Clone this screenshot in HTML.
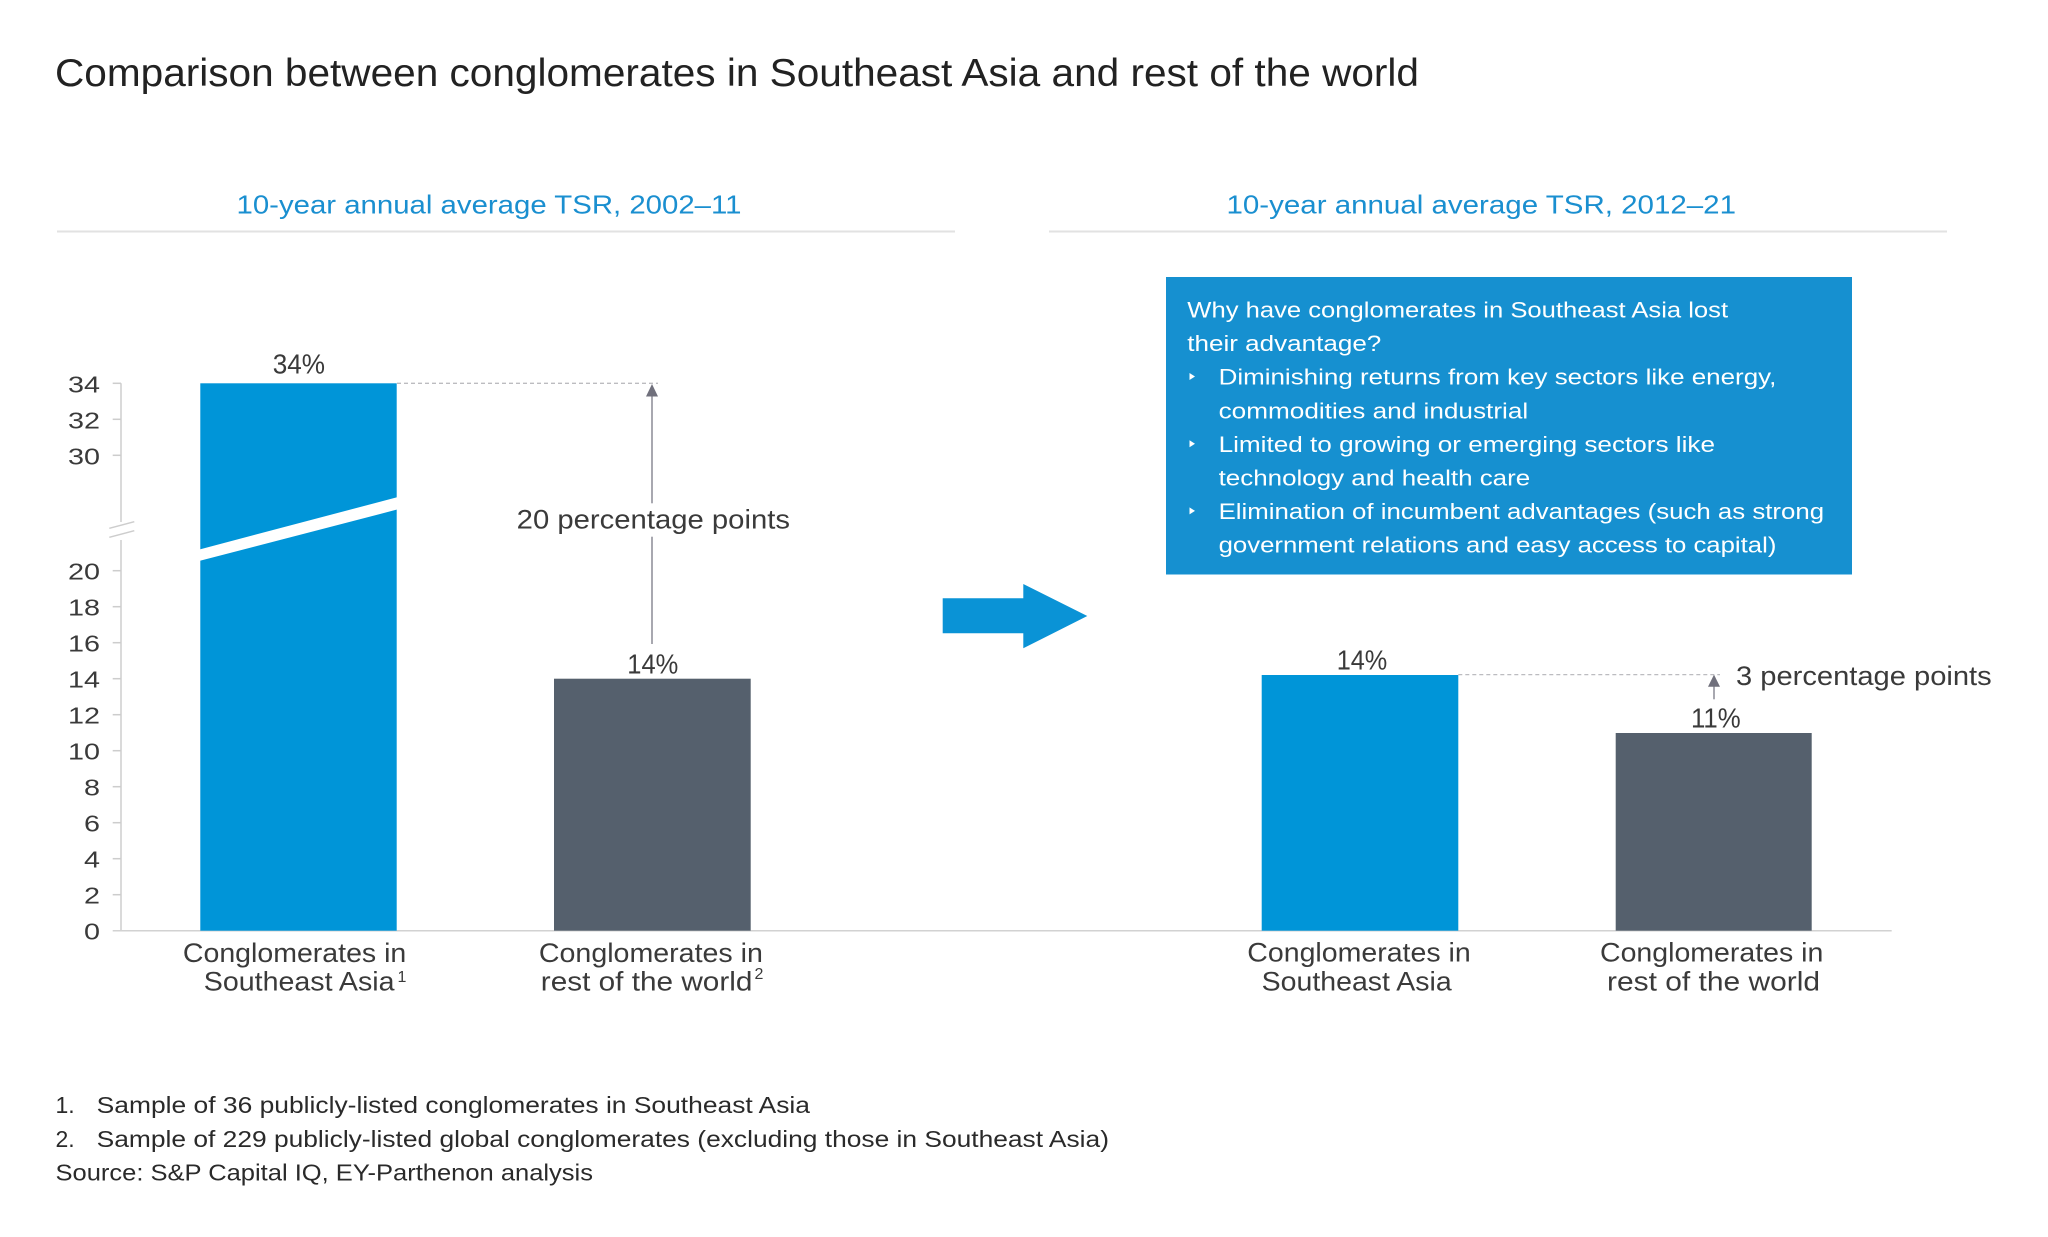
<!DOCTYPE html>
<html>
<head>
<meta charset="utf-8">
<style>
  html, body { margin: 0; padding: 0; background: #ffffff; }
  svg { display: block; }
  text { font-family: "Liberation Sans", "DejaVu Sans", sans-serif; }
</style>
</head>
<body>
<svg width="2048" height="1237" viewBox="0 0 2048 1237" xmlns="http://www.w3.org/2000/svg">
  <rect x="0" y="0" width="2048" height="1237" fill="#ffffff"/>

  <!-- Title -->
  <text x="55" y="86" font-size="39" fill="#222222" textLength="1364" lengthAdjust="spacingAndGlyphs">Comparison between conglomerates in Southeast Asia and rest of the world</text>

  <!-- Subtitles -->
  <text x="236.5" y="213.5" font-size="26" fill="#1a8fd0" textLength="505" lengthAdjust="spacingAndGlyphs">10-year annual average TSR, 2002–11</text>
  <text x="1226.5" y="213.5" font-size="26" fill="#1a8fd0" textLength="509.5" lengthAdjust="spacingAndGlyphs">10-year annual average TSR, 2012–21</text>
  <line x1="57" y1="231.5" x2="955" y2="231.5" stroke="#e2e2e2" stroke-width="2"/>
  <line x1="1049" y1="231.5" x2="1947" y2="231.5" stroke="#e2e2e2" stroke-width="2"/>

  <!-- Left axis -->
  <g stroke="#cdcdcd" stroke-width="1.5" fill="none">
    <line x1="121" y1="383.3" x2="121" y2="522"/>
    <line x1="121" y1="540" x2="121" y2="930.7"/>
    <line x1="109.3" y1="528.3" x2="134.3" y2="521.7"/>
    <line x1="109.3" y1="537.3" x2="134.3" y2="530.7"/>
    <line x1="112.7" y1="383.3" x2="121" y2="383.3"/>
    <line x1="112.7" y1="419.3" x2="121" y2="419.3"/>
    <line x1="112.7" y1="455.3" x2="121" y2="455.3"/>
    <line x1="112.7" y1="570.7" x2="121" y2="570.7"/>
    <line x1="112.7" y1="606.7" x2="121" y2="606.7"/>
    <line x1="112.7" y1="642.7" x2="121" y2="642.7"/>
    <line x1="112.7" y1="678.7" x2="121" y2="678.7"/>
    <line x1="112.7" y1="714.7" x2="121" y2="714.7"/>
    <line x1="112.7" y1="750.7" x2="121" y2="750.7"/>
    <line x1="112.7" y1="786.7" x2="121" y2="786.7"/>
    <line x1="112.7" y1="822.7" x2="121" y2="822.7"/>
    <line x1="112.7" y1="858.7" x2="121" y2="858.7"/>
    <line x1="112.7" y1="894.7" x2="121" y2="894.7"/>
  </g>
  <!-- baseline axis -->
  <line x1="112.7" y1="930.7" x2="1891.7" y2="930.7" stroke="#d2d2d2" stroke-width="1.5"/>

  <!-- Y tick labels -->
  <g font-size="23" fill="#3a3a3a" text-anchor="end">
    <text x="100" y="392.3" textLength="32" lengthAdjust="spacingAndGlyphs">34</text>
    <text x="100" y="428.3" textLength="32" lengthAdjust="spacingAndGlyphs">32</text>
    <text x="100" y="464.3" textLength="32" lengthAdjust="spacingAndGlyphs">30</text>
    <text x="100" y="579.7" textLength="32" lengthAdjust="spacingAndGlyphs">20</text>
    <text x="100" y="615.7" textLength="32" lengthAdjust="spacingAndGlyphs">18</text>
    <text x="100" y="651.7" textLength="32" lengthAdjust="spacingAndGlyphs">16</text>
    <text x="100" y="687.7" textLength="32" lengthAdjust="spacingAndGlyphs">14</text>
    <text x="100" y="723.7" textLength="32" lengthAdjust="spacingAndGlyphs">12</text>
    <text x="100" y="759.7" textLength="32" lengthAdjust="spacingAndGlyphs">10</text>
    <text x="100" y="795.7" textLength="16" lengthAdjust="spacingAndGlyphs">8</text>
    <text x="100" y="831.7" textLength="16" lengthAdjust="spacingAndGlyphs">6</text>
    <text x="100" y="867.7" textLength="16" lengthAdjust="spacingAndGlyphs">4</text>
    <text x="100" y="903.7" textLength="16" lengthAdjust="spacingAndGlyphs">2</text>
    <text x="100" y="939.7" textLength="16" lengthAdjust="spacingAndGlyphs">0</text>
  </g>

  <!-- Left chart bars -->
  <rect x="200.3" y="383.3" width="196.4" height="547.4" fill="#0095d8"/>
  <polygon points="199,549.6 398,497 398,509.3 199,561" fill="#ffffff"/>
  <rect x="554" y="678.7" width="196.7" height="252" fill="#55606d"/>

  <text x="272.7" y="373.3" font-size="28" fill="#3a3a3a" textLength="52.3" lengthAdjust="spacingAndGlyphs">34%</text>
  <text x="627.3" y="673.3" font-size="28" fill="#3a3a3a" textLength="51" lengthAdjust="spacingAndGlyphs">14%</text>

  <!-- 20 pp annotation -->
  <line x1="397" y1="383.3" x2="658" y2="383.3" stroke="#bcbcc0" stroke-width="1.3" stroke-dasharray="4 3"/>
  <line x1="652" y1="396" x2="652" y2="503.3" stroke="#a8a8b0" stroke-width="2"/>
  <line x1="652" y1="536.7" x2="652" y2="644" stroke="#a8a8b0" stroke-width="2"/>
  <polygon points="652,384 646,396.5 658,396.5" fill="#70707c"/>
  <text x="516.7" y="528.3" font-size="27" fill="#3a3a3a" textLength="273.3" lengthAdjust="spacingAndGlyphs">20 percentage points</text>

  <!-- Left x labels -->
  <g font-size="26.5" fill="#3a3a3a">
    <text x="182.9" y="962" textLength="223.4" lengthAdjust="spacingAndGlyphs">Conglomerates in</text>
    <text x="203.8" y="990.7" textLength="190.7" lengthAdjust="spacingAndGlyphs">Southeast Asia</text>
    <text x="538.9" y="962" textLength="224" lengthAdjust="spacingAndGlyphs">Conglomerates in</text>
    <text x="540.8" y="990.7" textLength="211.6" lengthAdjust="spacingAndGlyphs">rest of the world</text>
  </g>
  <text x="397.5" y="982" font-size="16" fill="#3a3a3a">1</text>
  <text x="754.5" y="979" font-size="16" fill="#3a3a3a">2</text>

  <!-- Big arrow -->
  <polygon points="942.7,598.3 1023.3,598.3 1023.3,584 1087.3,616 1023.3,648.3 1023.3,633.3 942.7,633.3" fill="#0a93d6"/>

  <!-- Info box -->
  <rect x="1166" y="277" width="686" height="297.5" fill="#1690d0"/>
  <g font-size="22.5" fill="#ffffff">
    <text x="1187.3" y="317.5" textLength="540.8" lengthAdjust="spacingAndGlyphs">Why have conglomerates in Southeast Asia lost</text>
    <text x="1187.3" y="351.1" textLength="194" lengthAdjust="spacingAndGlyphs">their advantage?</text>
    <text x="1218.6" y="384.7" textLength="557.8" lengthAdjust="spacingAndGlyphs">Diminishing returns from key sectors like energy,</text>
    <text x="1218.6" y="418.3" textLength="309.6" lengthAdjust="spacingAndGlyphs">commodities and industrial</text>
    <text x="1218.6" y="451.9" textLength="496.4" lengthAdjust="spacingAndGlyphs">Limited to growing or emerging sectors like</text>
    <text x="1218.6" y="485.5" textLength="311.6" lengthAdjust="spacingAndGlyphs">technology and health care</text>
    <text x="1218.6" y="519.1" textLength="605.5" lengthAdjust="spacingAndGlyphs">Elimination of incumbent advantages (such as strong</text>
    <text x="1218.6" y="552.7" textLength="557.8" lengthAdjust="spacingAndGlyphs">government relations and easy access to capital)</text>
  </g>
  <g fill="#ffffff">
    <polygon points="1189.5,373 1195,376.5 1189.5,380"/>
    <polygon points="1189.5,440.2 1195,443.7 1189.5,447.2"/>
    <polygon points="1189.5,507.4 1195,510.9 1189.5,514.4"/>
  </g>

  <!-- Right chart bars -->
  <rect x="1261.7" y="675" width="196.6" height="255.7" fill="#0095d8"/>
  <rect x="1615.7" y="733" width="196" height="197.7" fill="#55606d"/>
  <text x="1336.7" y="669.3" font-size="28" fill="#3a3a3a" textLength="50.6" lengthAdjust="spacingAndGlyphs">14%</text>
  <text x="1691" y="727.3" font-size="28" fill="#3a3a3a" textLength="49.7" lengthAdjust="spacingAndGlyphs">11%</text>

  <!-- 3 pp annotation -->
  <line x1="1458.3" y1="674.6" x2="1720" y2="674.6" stroke="#bcbcc0" stroke-width="1.3" stroke-dasharray="4 3"/>
  <line x1="1714" y1="686" x2="1714" y2="699.3" stroke="#a8a8b0" stroke-width="2"/>
  <polygon points="1714,674.6 1708,686.7 1720,686.7" fill="#70707c"/>
  <text x="1736" y="685" font-size="27" fill="#3a3a3a" textLength="255.7" lengthAdjust="spacingAndGlyphs">3 percentage points</text>

  <!-- Right x labels -->
  <g font-size="26.5" fill="#3a3a3a">
    <text x="1247.3" y="961.5" textLength="223.4" lengthAdjust="spacingAndGlyphs">Conglomerates in</text>
    <text x="1261.7" y="990.5" textLength="190" lengthAdjust="spacingAndGlyphs">Southeast Asia</text>
    <text x="1600" y="961.5" textLength="223.3" lengthAdjust="spacingAndGlyphs">Conglomerates in</text>
    <text x="1607" y="990.5" textLength="213" lengthAdjust="spacingAndGlyphs">rest of the world</text>
  </g>

  <!-- Footnotes -->
  <g font-size="23" fill="#2a2a2a">
    <text x="55.5" y="1113">1.</text>
    <text x="96.7" y="1113" textLength="713.3" lengthAdjust="spacingAndGlyphs">Sample of 36 publicly-listed conglomerates in Southeast Asia</text>
    <text x="55.5" y="1147">2.</text>
    <text x="96.7" y="1147" textLength="1012.3" lengthAdjust="spacingAndGlyphs">Sample of 229 publicly-listed global conglomerates (excluding those in Southeast Asia)</text>
    <text x="55.5" y="1180.5" textLength="537.5" lengthAdjust="spacingAndGlyphs">Source: S&amp;P Capital IQ, EY-Parthenon analysis</text>
  </g>
</svg>
</body>
</html>
